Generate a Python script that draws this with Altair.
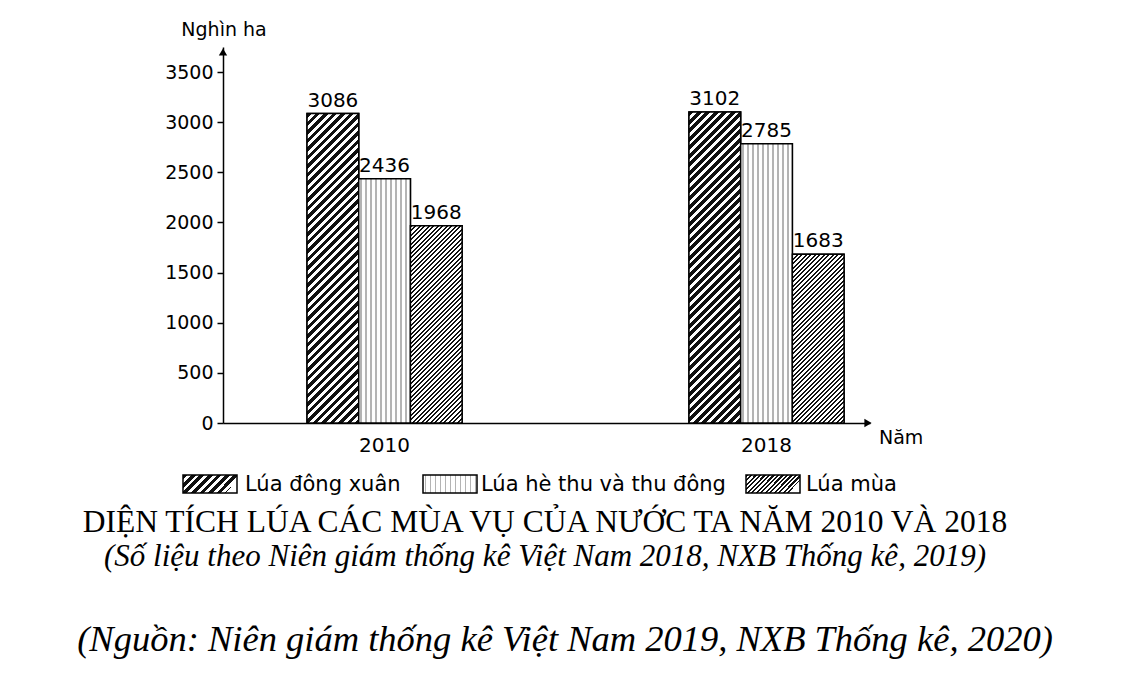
import altair as alt
import pandas as pd

years = ["2010", "2018"]
seasons = ["Lúa đông xuân", "Lúa hè thu và thu đông", "Lúa mùa"]
dong_xuan = [3086, 3102]
he_thu = [2436, 2785]
lua_mua = [1968, 1683]
y_ticks = [0, 500, 1000, 1500, 2000, 2500, 3000, 3500]

rows = []
for i, yr in enumerate(years):
    for s, vals in zip(seasons, [dong_xuan, he_thu, lua_mua]):
        rows.append({"year": yr, "season": s, "value": vals[i]})
df = pd.DataFrame(rows)

W, H = 647, 376
Y_MAX = 3750
P_INNER, P_OUTER, ALIGN = 0.594, 0.144, 0.764
FONT = "DejaVu Sans"
SERIF = "Liberation Serif"
fills = ["#8a8a8a", "#e2e2e2", "#7a7a7a"]

x_scale = alt.Scale(domain=years, paddingInner=P_INNER, paddingOuter=P_OUTER, align=ALIGN)
off_scale = alt.Scale(domain=seasons, paddingInner=0, paddingOuter=0)
y_scale = alt.Scale(domain=[0, Y_MAX], nice=False)

x_enc = alt.X(
    "year:N", scale=x_scale,
    axis=alt.Axis(title=None, labelAngle=0, ticks=False, labelPadding=12,
                  labelFontSize=20, labelFont=FONT, labelColor="black",
                  domainColor="black", domainWidth=1.5),
)
xoff = alt.XOffset("season:N", scale=off_scale)
y_enc = alt.Y(
    "value:Q", scale=y_scale,
    axis=alt.Axis(values=y_ticks, format="d", title=None, grid=False,
                  tickColor="black", tickSize=6, tickWidth=1.5,
                  labelFontSize=19, labelFont=FONT, labelColor="black",
                  labelPadding=4, domainColor="black", domainWidth=1.5),
)

base = alt.Chart(df)
bars = base.mark_bar(stroke="black", strokeWidth=1.5).encode(
    x=x_enc,
    xOffset=xoff,
    y=y_enc,
    fill=alt.Fill(
        "season:N",
        scale=alt.Scale(domain=seasons, range=fills),
        legend=alt.Legend(
            title=None, orient="none", legendX=-40, legendY=419,
            direction="horizontal", columns=3, columnPadding=18,
            symbolType="M-1,-0.5H2V0.5H-1Z", symbolSize=1296,
            symbolOpacity=0, labelOffset=24, labelFontSize=21,
            labelFont=FONT, labelColor="black", labelLimit=400,
        ),
    ),
)

# hatch textures drawn as striped linear gradients (bounding-box units)
bar_w = 382 * (1 - P_INNER) / 3


def diag(w, h, period, dark_frac, dark="#111111", light="#ffffff"):
    r = h / w
    dt = period / (w * (1 + r * r))
    t_max = (1 + r) / (1 + r * r)
    stops = []
    t = 0.0
    while t < t_max + dt and t < 1:
        t1 = min(t + dt * dark_frac, 1.0)
        t2 = min(t + dt, 1.0)
        stops += [{"offset": round(t, 5), "color": dark},
                  {"offset": round(t1, 5), "color": dark},
                  {"offset": round(t1, 5), "color": light},
                  {"offset": round(t2, 5), "color": light}]
        t += dt
    return {"gradient": "linear", "x1": 0, "y1": 0, "x2": 1, "y2": round(r, 5),
            "stops": stops}


def vert(w, period, dark_frac, dark="#b4b4b4", light="#ffffff"):
    dt = period / w
    stops = []
    t = dt * 0.35
    stops.append({"offset": 0, "color": light})
    while t < 1:
        t1 = min(t + dt * dark_frac, 1.0)
        t2 = min(t + dt, 1.0)
        stops += [{"offset": round(t, 5), "color": light},
                  {"offset": round(t, 5), "color": dark},
                  {"offset": round(t1, 5), "color": dark},
                  {"offset": round(t1, 5), "color": light},
                  {"offset": round(t2, 5), "color": light}]
        t += dt
    return {"gradient": "linear", "x1": 0, "y1": 0, "x2": 1, "y2": 0,
            "stops": stops}


hatch = {"Lúa đông xuân": (8.5, 0.55), "Lúa mùa": (4.5, 0.45)}
DOT_PERIOD, DOT_FRAC = 5.0, 0.3


def texture(season, w, h):
    if season in hatch:
        p, f = hatch[season]
        return diag(w, h, p, f)
    return vert(w, DOT_PERIOD, DOT_FRAC)


overlays = []
for i, yr in enumerate(years):
    for s, vals in zip(seasons, [dong_xuan, he_thu, lua_mua]):
        h = vals[i] / Y_MAX * H
        overlays.append(
            base.transform_filter(
                (alt.datum.year == yr) & (alt.datum.season == s)
            ).mark_bar(stroke="black", strokeWidth=1.5,
                       fill=texture(s, bar_w, h)).encode(
                x=alt.X("year:N", scale=x_scale),
                xOffset=alt.XOffset("season:N", scale=off_scale),
                y=alt.Y("value:Q", scale=y_scale),
            )
        )

one = alt.Data(values=[{}])

# legend swatches (textured), aligned with the legend labels
swatch_x = [-40, 200, 523]
SW_W, SW_H, SW_Y = 54, 18, 428
swatches = [
    alt.Chart(one).mark_rect(stroke="black", strokeWidth=1.5,
                             fill=texture(s, SW_W, SW_H)).encode(
        x=alt.value(sx), x2=alt.value(sx + SW_W),
        y=alt.value(SW_Y), y2=alt.value(SW_Y + SW_H))
    for s, sx in zip(seasons, swatch_x)
]

labels = base.mark_text(baseline="bottom", dy=-3, fontSize=20, font=FONT,
                        color="black").encode(
    x=alt.X("year:N", scale=x_scale),
    xOffset=alt.XOffset("season:N", scale=off_scale),
    y=alt.Y("value:Q", scale=y_scale), text="value:Q",
)

y_arrow = alt.Chart(one).mark_point(shape="triangle-up", filled=True,
                                    color="black", size=70, opacity=1).encode(
    x=alt.value(0), y=alt.value(5))
x_arrow = alt.Chart(one).mark_point(shape="triangle-right", filled=True,
                                    color="black", size=70, opacity=1).encode(
    x=alt.value(W - 2), y=alt.value(H))


def txt(t, xv, yv, size, font=FONT, style="normal", align="center"):
    return alt.Chart(one).mark_text(
        text=t, fontSize=size, font=font, fontStyle=style, color="black",
        align=align, baseline="middle").encode(x=alt.value(xv), y=alt.value(yv))


texts = [
    txt("Nghìn ha", 1, -17, 19),
    txt("Năm", 656, H + 15, 19, align="left"),
    txt("DIỆN TÍCH LÚA CÁC MÙA VỤ CỦA NƯỚC TA NĂM 2010 VÀ 2018", 322, 476, 31.5, font=SERIF),
    txt("(Số liệu theo Niên giám thống kê Việt Nam 2018, NXB Thống kê, 2019)", 322, 510, 31, font=SERIF, style="italic"),
    txt("(Nguồn: Niên giám thống kê Việt Nam 2019, NXB Thống kê, 2020)", 342, 593, 36.5, font=SERIF, style="italic"),
]

chart = alt.layer(bars, *overlays, *swatches, labels, y_arrow, x_arrow, *texts).properties(
    width=W, height=H, autosize="none",
    padding={"left": 215, "top": 39, "right": 240, "bottom": 240},
    view=alt.ViewBackground(stroke="transparent", strokeWidth=0),
).configure_view(stroke="transparent", strokeWidth=0).configure(background="white")

chart.save("out.html", embed_options={"renderer": "svg", "actions": False})
